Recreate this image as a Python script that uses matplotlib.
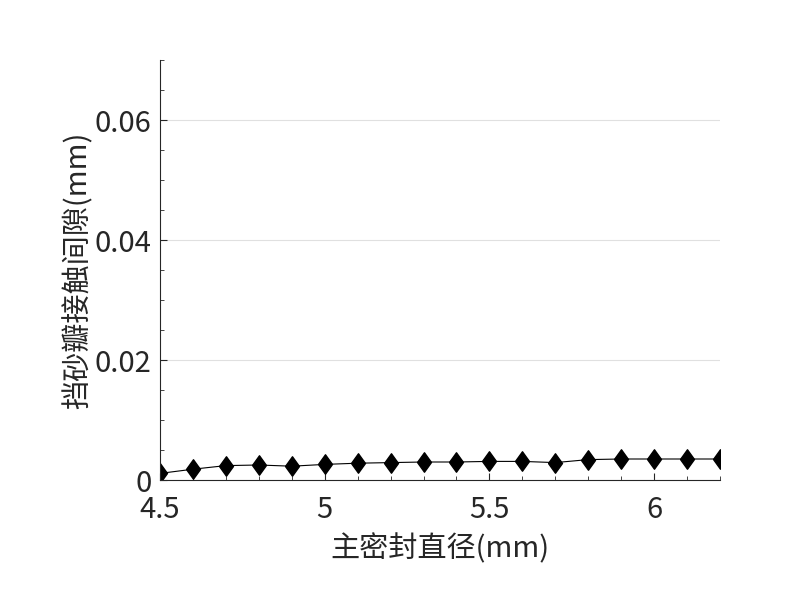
import matplotlib
matplotlib.use('Agg')
import matplotlib.pyplot as plt
from matplotlib.ticker import MultipleLocator

plt.rcParams['font.family'] = ['Noto Sans CJK SC', 'DejaVu Sans']

diam = [4.5, 4.6, 4.7, 4.8, 4.9, 5.0, 5.1, 5.2, 5.3,
        5.4, 5.5, 5.6, 5.7, 5.8, 5.9, 6.0, 6.1, 6.2]
gap = [0.0011, 0.0018, 0.0024, 0.0025, 0.0023, 0.0026, 0.0028, 0.0029, 0.0030,
       0.0030, 0.0031, 0.0031, 0.0029, 0.0034, 0.0035, 0.0035, 0.0035, 0.0035]
xticks = [4.5, 5, 5.5, 6]
xticklabels = ['4.5', '5', '5.5', '6']
yticks = [0, 0.02, 0.04, 0.06]
yticklabels = ['0', '0.02', '0.04', '0.06']

# diamond a bit wider than the built-in 'd'
diamond = [(-0.36, 0), (0, 0.5), (0.36, 0), (0, -0.5), (-0.36, 0)]

fig = plt.figure(figsize=(8, 6), dpi=100)
ax = fig.add_axes([0.2, 0.2, 0.7, 0.7])
ax.plot(diam, gap, color='black', lw=0.8, marker=diamond, ms=14, mfc='black', mec='black')

ax.set_xlim(4.5, 6.2)
ax.set_ylim(0, 0.07)
ax.set_xticks(xticks)
ax.set_xticklabels(xticklabels)
ax.set_yticks(yticks)
ax.set_yticklabels(yticklabels)
ax.xaxis.set_minor_locator(MultipleLocator(0.1))
ax.yaxis.set_minor_locator(MultipleLocator(0.005))
ax.tick_params(which='both', direction='in', labelsize=21, color='#262626', labelcolor='#262626')
ax.tick_params(which='major', length=5)
ax.tick_params(which='minor', length=3)
ax.tick_params(axis='y', pad=6)
ax.tick_params(axis='x', pad=11)
ax.grid(axis='y', which='major', color='#e0e0e0', lw=0.8)
ax.set_axisbelow(True)
ax.spines['top'].set_visible(False)
ax.spines['right'].set_visible(False)
ax.spines['left'].set_color('#262626')
ax.spines['bottom'].set_color('#262626')

ax.set_xlabel('主密封直径(mm)', fontsize=21, color='#262626', labelpad=6)
ax.set_ylabel('挡砂瓣接触间隙(mm)', fontsize=21, color='#262626', labelpad=1)

fig.savefig('out.png', dpi=100)
